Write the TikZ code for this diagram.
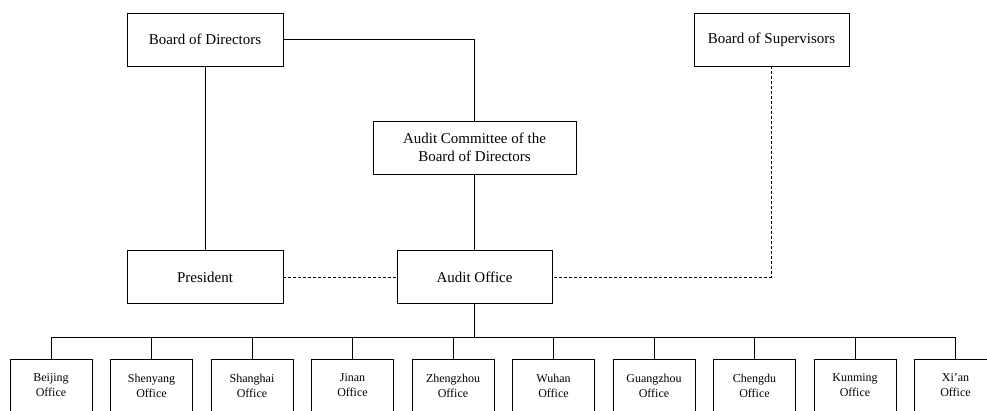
\documentclass[tikz,border=0pt]{standalone}
\usepackage{fontspec}
\setmainfont{Liberation Serif}
\usepackage{tikz}
\usetikzlibrary{calc, positioning}

\begin{document}
\begin{tikzpicture}[x=1pt, y=-1pt, line width=0.8pt,
    unit/.style={draw, inner sep=0pt, minimum height=53pt, align=center,
                 font=\fontsize{15}{18}\selectfont},
    office/.style={draw, inner sep=0pt, minimum width=82pt, minimum height=53pt,
                   align=center, font=\fontsize{12}{15}\selectfont},
    link/.style={dash pattern=on 3pt off 2pt}]
  \clip (0,0) rectangle (987,410);

  % Top level
  \node[unit, minimum width=156pt] (bod) at (205, 39.5) {Board of Directors};
  \node[unit, minimum width=155pt] (bos) at (771.5, 39.5) {Board of Supervisors};
  \node[unit, minimum width=203pt] (acom) at (474.5, 147.5)
    {Audit Committee of the\\Board of Directors};

  % Middle level
  \node[unit, minimum width=156pt] (pres) at (205, 277) {President};
  \node[unit, minimum width=155pt] (aoff) at (474.5, 277) {Audit Office};

  % Reporting lines
  \draw (bod.east) -| (acom.north);
  \draw (bod.south) -- (pres.north);
  \draw (acom.south) -- (aoff.north);
  \draw[link] (pres.east) -- (aoff.west);
  \draw[link] (bos.south) |- (aoff.east);

  % Regional offices
  \coordinate (bus) at (474.5, 337);
  \draw (aoff.south) -- (bus);
  \foreach \city [count=\i] in {Beijing, Shenyang, Shanghai, Jinan, Zhengzhou,
                                Wuhan, Guangzhou, Chengdu, Kunming, Xi’an} {
    \node[office] (o\i) at ({51 + (\i-1)*100.5}, 385.5) {\city\\Office};
    \draw (bus) -| (o\i.north);
  }
\end{tikzpicture}
\end{document}
